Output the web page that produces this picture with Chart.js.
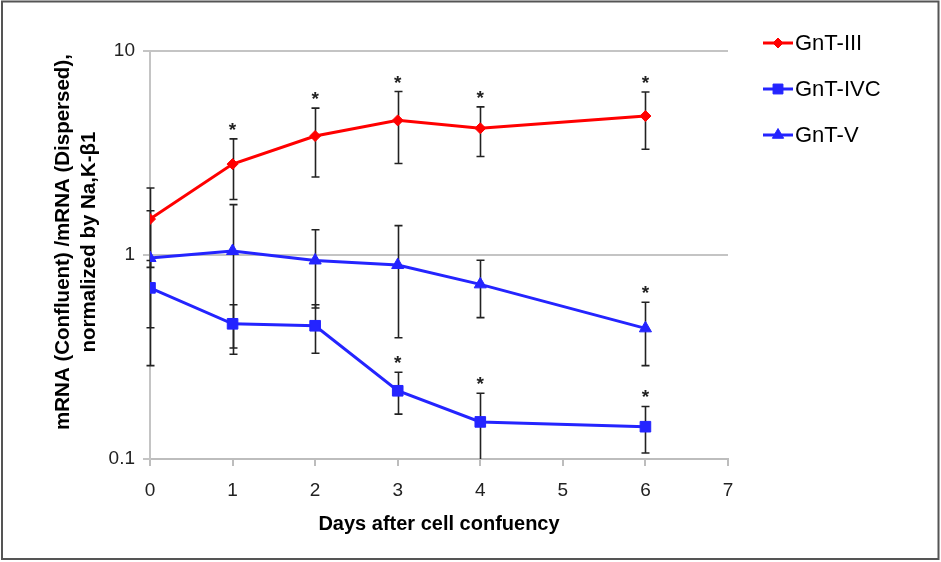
<!DOCTYPE html>
<html lang="en">
<head>
    <meta charset="UTF-8">
    <title>GnT mRNA after confluency</title>
    <script src="https://cdn.jsdelivr.net/npm/chart.js"></script>
    <style>
        body { margin: 0; background: #fff; }
        #chart-container { width: 941px; height: 562px; }
    </style>
</head>
<body>

    <div id="chart-container">
        <canvas id="gntChart"></canvas>
    </div>

    <script>
        // Data
        const days = [0, 1, 2, 3, 4, 6];
        const yTicks = [0.1, 1, 10];

        const gnt3 = [1.50, 2.79, 3.83, 4.57, 4.18, 4.80];
        const gnt3Err = [0.63, 0.92, 1.42, 1.76, 1.14, 1.50];
        const gnt3Sig = [false, true, true, true, true, true];

        const gnt4c = [0.69, 0.46, 0.45, 0.216, 0.152, 0.144];
        const gnt4cErr = [0.25, 0.11, 0.12, 0.05, 0.058, 0.037];
        const gnt4cSig = [false, false, false, true, true, true];

        const gnt5 = [0.967, 1.046, 0.94, 0.893, 0.718, 0.437];
        const gnt5Err = [0.68, 0.72, 0.39, 0.50, 0.225, 0.15];
        const gnt5Sig = [false, false, false, false, false, true];

        const FONT = "'Liberation Sans', Arial, sans-serif";

        function points(vals) {
            return days.map((d, i) => ({ x: d, y: vals[i] }));
        }

        function series(label, vals, err, sig, color, style, radius) {
            return {
                label: label,
                data: points(vals),
                err: err,
                sig: sig,
                borderColor: color,
                backgroundColor: color,
                borderWidth: 3,
                pointStyle: style,
                pointRadius: radius,
                pointHoverRadius: radius,
                pointBorderWidth: 1,
                tension: 0
            };
        }

        // error bars + significance stars
        const errorBars = {
            id: 'errorBars',
            beforeDatasetsDraw(chart) {
                const ctx = chart.ctx, xs = chart.scales.x, ys = chart.scales.y, a = chart.chartArea;
                ctx.save();
                ctx.beginPath();
                ctx.rect(a.left - 10, a.top - 40, a.right - a.left + 20, a.bottom - a.top + 40);
                ctx.clip();
                ctx.strokeStyle = '#222';
                ctx.lineWidth = 1.6;
                chart.data.datasets.forEach(ds => {
                    ds.data.forEach((p, i) => {
                        const px = Math.round(xs.getPixelForValue(p.x)) + 0.5;
                        const hi = p.y + ds.err[i];
                        const lo = p.y - ds.err[i];
                        const yHi = ys.getPixelForValue(hi);
                        const yLo = lo > 0 ? Math.min(ys.getPixelForValue(lo), a.bottom) : a.bottom;
                        ctx.beginPath();
                        ctx.moveTo(px, yHi); ctx.lineTo(px, yLo);
                        ctx.moveTo(px - 4, yHi); ctx.lineTo(px + 4, yHi);
                        if (yLo < a.bottom) { ctx.moveTo(px - 4, yLo); ctx.lineTo(px + 4, yLo); }
                        ctx.stroke();
                    });
                });
                ctx.restore();

                ctx.save();
                ctx.fillStyle = '#222';
                ctx.font = 'bold 19px ' + FONT;
                ctx.textAlign = 'center';
                ctx.textBaseline = 'alphabetic';
                chart.data.datasets.forEach(ds => {
                    ds.data.forEach((p, i) => {
                        if (!ds.sig[i]) return;
                        const px = xs.getPixelForValue(p.x);
                        const yHi = ys.getPixelForValue(p.y + ds.err[i]);
                        ctx.fillText('*', px, yHi - 3);
                    });
                });
                ctx.restore();
            }
        };

        // frame, y title and legend
        const decorations = {
            id: 'decorations',
            afterDraw(chart) {
                const ctx = chart.ctx;
                ctx.save();
                ctx.strokeStyle = '#555';
                ctx.lineWidth = 2;
                ctx.strokeRect(2, 1.5, 936.5, 557.5);

                // y axis title
                ctx.fillStyle = '#000';
                ctx.font = 'bold 20.5px ' + FONT;
                ctx.textAlign = 'center';
                ctx.textBaseline = 'middle';
                ctx.translate(76, 242);
                ctx.rotate(-Math.PI / 2);
                ctx.fillText('mRNA (Confluent) /mRNA (Dispersed),', 0, -13);
                ctx.fillText('normalized by Na,K-\u03b21', 0, 13);
                ctx.restore();

                // legend
                ctx.save();
                chart.data.datasets.forEach((ds, i) => {
                    const y = 43 + i * 46;
                    ctx.strokeStyle = ds.borderColor;
                    ctx.fillStyle = ds.backgroundColor;
                    ctx.lineWidth = 3;
                    ctx.beginPath();
                    ctx.moveTo(763, y); ctx.lineTo(793, y);
                    ctx.stroke();
                    ctx.lineWidth = 1;
                    Chart.helpers.drawPoint(ctx, {
                        pointStyle: ds.pointStyle, radius: ds.pointRadius - 0.5, rotation: 0, borderWidth: 1
                    }, 778, y);
                    ctx.fillStyle = '#000';
                    ctx.font = '22px ' + FONT;
                    ctx.textAlign = 'left';
                    ctx.textBaseline = 'middle';
                    ctx.fillText(ds.label, 795, y + 1);
                });
                ctx.restore();
            }
        };

        const ctx = document.getElementById('gntChart').getContext('2d');
        const gntChart = new Chart(ctx, {
            type: 'line',
            data: {
                datasets: [
                    series('GnT-III', gnt3, gnt3Err, gnt3Sig, '#ff0000', 'rectRot', 5.5),
                    series('GnT-IVC', gnt4c, gnt4cErr, gnt4cSig, '#2424ff', 'rect', 7.5),
                    series('GnT-V', gnt5, gnt5Err, gnt5Sig, '#2424ff', 'triangle', 7)
                ]
            },
            options: {
                responsive: true,
                maintainAspectRatio: false,
                animation: false,
                layout: { padding: { top: 51, right: 213, left: 0, bottom: 22 } },
                plugins: {
                    legend: { display: false },
                    tooltip: { enabled: false }
                },
                scales: {
                    x: {
                        type: 'linear',
                        min: 0,
                        max: 7,
                        afterFit(s) { s.height = 81; },
                        ticks: { stepSize: 1, color: '#222', padding: 13, font: { family: FONT, size: 19 } },
                        grid: { drawOnChartArea: false, color: '#bdbdbd', lineWidth: 2, tickLength: 7 },
                        border: { color: '#bdbdbd', width: 2 },
                        title: {
                            display: true,
                            text: 'Days after cell confuency',
                            color: '#000',
                            font: { family: FONT, size: 20, weight: 'bold' },
                            padding: { top: 4, bottom: 4 }
                        }
                    },
                    y: {
                        type: 'logarithmic',
                        min: 0.1,
                        max: 10,
                        afterFit(s) { s.width = 150; },
                        afterBuildTicks(s) { s.ticks = yTicks.map(v => ({ value: v })); },
                        ticks: {
                            color: '#222',
                            padding: 8,
                            font: { family: FONT, size: 19 },
                            callback: v => String(v)
                        },
                        grid: { color: '#c4c4c4', lineWidth: 2, tickLength: 7 },
                        border: { color: '#c4c4c4', width: 2 }
                    }
                }
            },
            plugins: [errorBars, decorations]
        });
    </script>

</body>
</html>
